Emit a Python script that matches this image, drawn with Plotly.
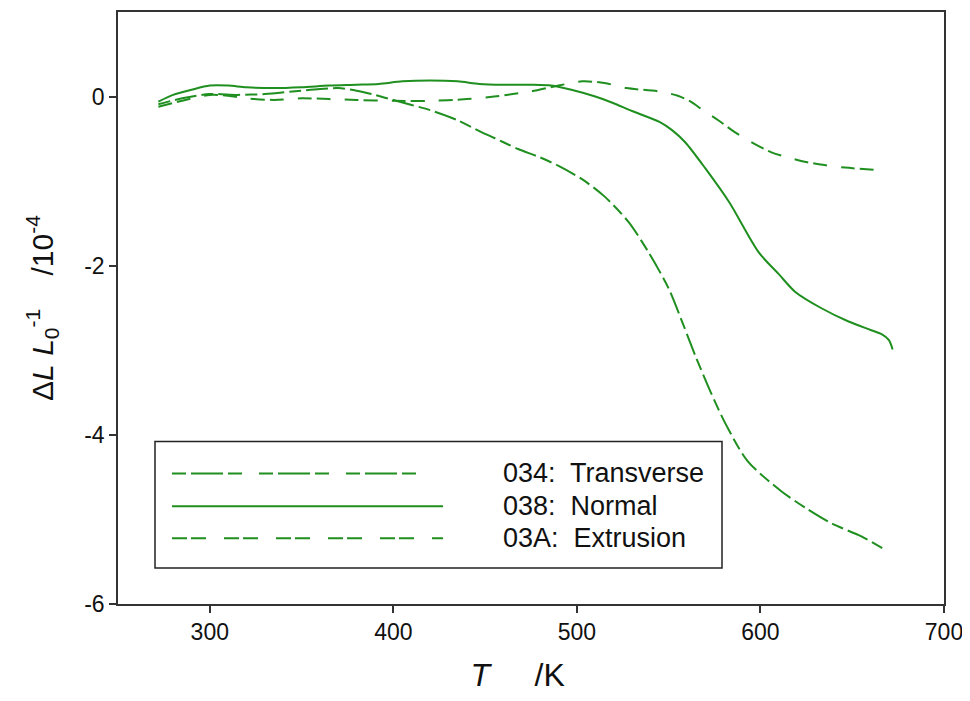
import plotly.graph_objects as go

# 034: Transverse
T_transverse = [272, 285, 300, 315, 330, 345, 360, 370, 380, 390, 400, 410, 420, 435, 448, 460,
                468, 480, 490, 503, 515, 528, 539, 550, 558, 565, 573, 581, 593, 611, 625, 639, 655, 668]
dL_transverse = [-0.09, -0.02, 0.03, 0.02, 0.03, 0.06, 0.09, 0.10, 0.07, 0.02, -0.04, -0.10, -0.16, -0.28,
                 -0.42, -0.54, -0.62, -0.72, -0.82, -0.98, -1.18, -1.48, -1.84, -2.27, -2.70, -3.09, -3.50,
                 -3.87, -4.31, -4.66, -4.87, -5.05, -5.20, -5.36]

# 038: Normal
T_normal = [272, 280, 290, 300, 310, 320, 335, 350, 365, 380, 392, 405, 420, 435, 447, 460, 475, 486,
            497, 510, 519, 530, 545, 552, 559, 570, 583, 599, 610, 619, 633, 648, 660, 666, 670, 672]
dL_normal = [-0.06, 0.02, 0.08, 0.13, 0.13, 0.11, 0.10, 0.11, 0.13, 0.14, 0.15, 0.18, 0.19, 0.18, 0.15,
             0.14, 0.14, 0.13, 0.08, 0.00, -0.07, -0.17, -0.30, -0.40, -0.54, -0.85, -1.25, -1.84, -2.10,
             -2.31, -2.50, -2.66, -2.76, -2.81, -2.88, -2.99]

# 03A: Extrusion
T_extrusion = [272, 285, 300, 310, 320, 335, 350, 365, 380, 400, 420, 440, 455, 465, 475, 490, 503, 515,
               527, 545, 555, 562, 568, 577, 586, 596, 606, 615, 624, 635, 646, 666]
dL_extrusion = [-0.12, -0.05, 0.02, 0.01, -0.02, -0.04, -0.02, -0.03, -0.04, -0.05, -0.05, -0.03, 0.00,
                0.03, 0.06, 0.13, 0.18, 0.16, 0.10, 0.06, 0.01, -0.06, -0.15, -0.28, -0.42, -0.55, -0.66,
                -0.72, -0.77, -0.81, -0.84, -0.87]

series_names = ["034:  Transverse", "038:  Normal", "03A:  Extrusion"]
x_ticks = [300, 400, 500, 600, 700]
y_ticks = [0, -2, -4, -6]
y_ticklabels = ["0", "-2", "-4", "-6"]

GREEN = "#1f8f1f"
plot_dashes = ["12px,5px,22px,5px", "solid", "14px,5px,14px,14px"]
legend_dashes = ["14px,5px,32px,5px,14px,17px", "solid", "15px,4px,15px,18px"]
FONT = "Liberation Sans, Arial"

fig = go.Figure()
for name, xs, ys, d in zip(series_names,
                           [T_transverse, T_normal, T_extrusion],
                           [dL_transverse, dL_normal, dL_extrusion], plot_dashes):
    fig.add_trace(go.Scatter(x=xs, y=ys, mode="lines", name=name,
                             line=dict(color=GREEN, width=2, dash=d, shape="spline", smoothing=0.8),
                             showlegend=False))

# page body margin of 8px in the browser
OFF = 8
W, H = 970 - OFF, 701 - 2 * OFF
# plot area in screen pixels: x 118..944, y 10..604
ml, mr, mt, mb = 118 - OFF, W - (944 - OFF), 10 - OFF, H - (604 - OFF)
pw, ph = W - ml - mr, H - mt - mb


def px2x(px):
    return (px - OFF - ml) / pw


def py2y(py):
    return 1 - (py - OFF - mt) / ph


shapes = [dict(type="rect", xref="paper", yref="paper",
               x0=px2x(155), x1=px2x(722), y0=py2y(568), y1=py2y(441),
               line=dict(color="#222", width=1.5), fillcolor="white", layer="above")]
annotations = []
leg_rows = [(473, 428), (506, 443), (538, 443)]
for (py, xend), name, d in zip(leg_rows, series_names, legend_dashes):
    shapes.append(dict(type="line", xref="paper", yref="paper",
                       x0=px2x(172), x1=px2x(xend), y0=py2y(py), y1=py2y(py),
                       line=dict(color=GREEN, width=2, dash=d), layer="above"))
    annotations.append(dict(xref="paper", yref="paper", x=px2x(501), y=py2y(py),
                            text=name, showarrow=False, xanchor="left", yanchor="middle",
                            font=dict(size=27, color="#111", family=FONT)))

fig.update_layout(
    width=W, height=H,
    margin=dict(l=ml, r=mr, t=mt, b=mb),
    plot_bgcolor="white", paper_bgcolor="white",
    font=dict(family=FONT, size=23, color="#111"),
    shapes=shapes, annotations=annotations,
    xaxis=dict(range=[250, 700], tickvals=x_ticks, ticks="outside", ticklen=7, tickwidth=1.5,
               tickcolor="#333", showline=True, linecolor="#333", linewidth=1.5, mirror=True,
               showgrid=False, zeroline=False, tickfont=dict(size=23), ticklabeloverflow="allow",
               title=dict(text="<i>T</i>     /K&nbsp;&nbsp;&nbsp;", font=dict(size=32), standoff=20)),
    yaxis=dict(range=[-6, 1], tickvals=y_ticks, ticktext=y_ticklabels, ticks="outside", ticklen=7,
               tickwidth=1.5, tickcolor="#333", showline=True, linecolor="#333", linewidth=1.5,
               mirror=True, showgrid=False, zeroline=False, tickfont=dict(size=23),
               title=dict(text="Δ<i>L</i> <i>L</i><sub>0</sub><sup>-1</sup>    /10<sup>-4</sup>",
                          font=dict(size=30), standoff=22)),
)

fig.write_html("out.html")
